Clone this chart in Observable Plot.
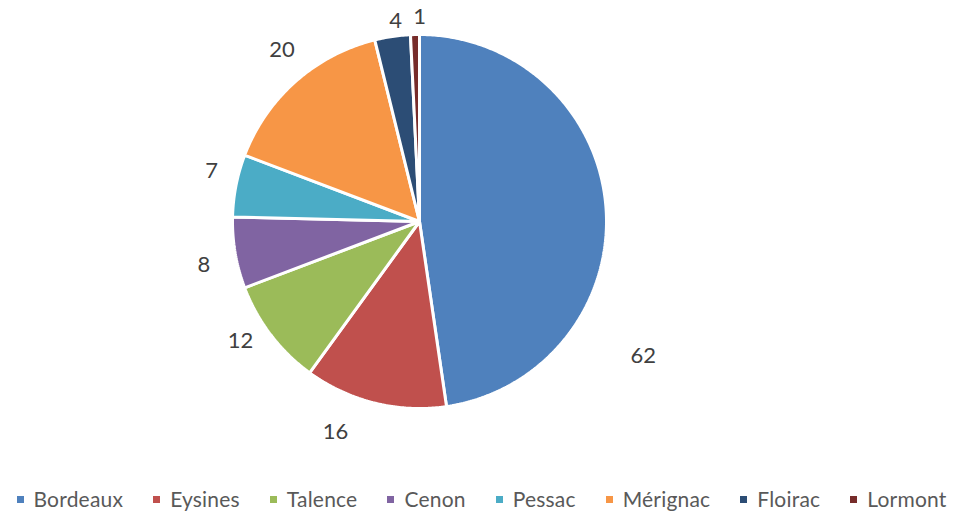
<!DOCTYPE html>
<html>
<head>
<meta charset="utf-8">
<script src="https://cdn.jsdelivr.net/npm/d3@7"></script>
<script src="https://cdn.jsdelivr.net/npm/@observablehq/plot@0.6"></script>
<style>
  html, body { margin: 0; padding: 0; background: #fff; }
  #chart { width: 957px; }
  .legend { display: flex; justify-content: center; align-items: center; height: 32px; margin-left: 6px;
    font-family: Lato, "Open Sans", sans-serif; font-size: 21px; color: #595959; letter-spacing: 0.2px; }
  .legend .item { display: flex; align-items: center; margin-right: 30px; }
  .legend .item:last-child { margin-right: 0; }
  .legend .sw { width: 7px; height: 7px; margin-right: 10px; margin-top: 2px; }
</style>
</head>
<body>
<div id="chart"></div>
<script>
const categories = ["Bordeaux", "Eysines", "Talence", "Cenon", "Pessac", "Mérignac", "Floirac", "Lormont"];
const values = [62, 16, 12, 8, 7, 20, 4, 1];
const colors = ["#4F81BD", "#C0504D", "#9BBB59", "#8064A2", "#4BACC6", "#F79646", "#2C4D75", "#772C2A"];

const W = 957, H = 482, CX = 419, CY = 221, R = 187;
const total = d3.sum(values);

// slice geometry (angles clockwise from 12 o'clock)
let acc = 0;
const slices = categories.map((c, i) => {
  const a0 = acc / total * 2 * Math.PI;
  acc += values[i];
  const a1 = acc / total * 2 * Math.PI;
  return {category: c, value: values[i], a0, a1, mid: (a0 + a1) / 2};
});

const pts = [];
for (const s of slices) {
  pts.push({category: s.category, x: 0, y: 0});
  const n = Math.max(2, Math.ceil((s.a1 - s.a0) / 0.01));
  for (let k = 0; k <= n; k++) {
    const a = s.a0 + (s.a1 - s.a0) * k / n;
    pts.push({category: s.category, x: R * Math.sin(a), y: R * Math.cos(a)});
  }
}

// label placement, Excel "best fit": angle (deg, clockwise from top) and distance from centre
const labelPlacement = {
  Bordeaux: [121, 261], Eysines: [201.7, 227], Talence: [236.4, 215], Cenon: [258.7, 220],
  Pessac: [283.8, 214], "Mérignac": [321.3, 220], Floirac: [353.2, 202], Lormont: [0, 205]
};
const labels = slices.map(s => {
  const [deg, r] = labelPlacement[s.category];
  const a = deg * Math.PI / 180;
  return {category: s.category, value: s.value, x: r * Math.sin(a), y: r * Math.cos(a)};
});

const plot = Plot.plot({
  width: W, height: H,
  margin: 0,
  x: {domain: [-CX, W - CX], range: [0, W], axis: null},
  y: {domain: [CY - H, CY], range: [H, 0], axis: null},
  color: {domain: categories, range: colors},
  style: {background: "#fff"},
  marks: [
    Plot.line(pts, {x: "x", y: "y", z: "category", fill: "category", stroke: "white",
      strokeWidth: 3, strokeLinejoin: "miter", curve: "linear-closed"}),
    Plot.text(labels, {x: "x", y: "y", text: d => String(d.value), fill: "#404040",
      fontSize: 22, fontFamily: "Lato, 'Open Sans', sans-serif"})
  ]
});
document.getElementById("chart").appendChild(plot);

const legend = document.createElement("div");
legend.className = "legend";
categories.forEach((c, i) => {
  const it = document.createElement("div");
  it.className = "item";
  const sw = document.createElement("span");
  sw.className = "sw";
  sw.style.background = colors[i];
  const t = document.createElement("span");
  t.textContent = c;
  it.appendChild(sw); it.appendChild(t);
  legend.appendChild(it);
});
document.getElementById("chart").appendChild(legend);
</script>
</body>
</html>
